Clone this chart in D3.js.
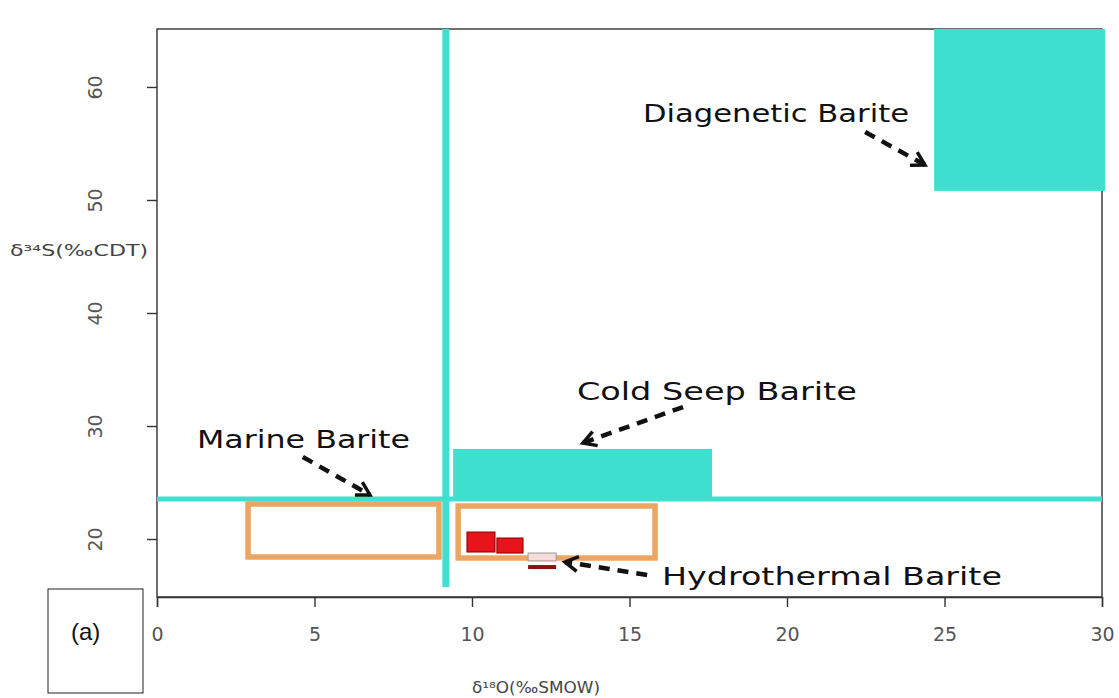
<!DOCTYPE html>
<html>
<head>
<meta charset="utf-8">
<script src="https://cdn.jsdelivr.net/npm/d3@7"></script>
<style>
  body { margin: 0; background: #fff; }
  svg { display: block; }
</style>
</head>
<body>
<svg id="chart" width="1119" height="698"></svg>
<script>
// ---- data (δ18O ‰SMOW on x, δ34S ‰CDT on y) ----
const xTicks = [0, 5, 10, 15, 20, 25, 30];
const yTicks = [20, 30, 40, 50, 60];

// filled barite fields
const fieldNames = ["Diagenetic Barite", "Cold Seep Barite"];
const fieldX = [[24.67, 30.1], [9.40, 17.62]];
const fieldY = [[50.8, 65.13], [23.5, 27.97]];

// boundary lines
const vLineX = 9.17;
const vLineY = [15.75, 65.13];
const hLineY = 23.54;
const hLineX = [0, 30];

// outlined fields
const boxNames = ["Marine Barite", "Marine Barite (this study)"];
const boxX = [[2.89, 8.95], [9.56, 15.81]];
const boxY = [[18.41, 23.10], [18.32, 22.92]];

// hydrothermal samples
const sampleX = [[9.84, 10.73], [10.79, 11.62], [11.78, 12.67]];
const sampleY = [[18.85, 20.62], [18.76, 20.09], [18.06, 18.76]];
const sampleLineX = [11.78, 12.67];
const sampleLineY = 17.52;

// annotations
const labelText = ["Diagenetic Barite", "Cold Seep Barite", "Marine Barite", "Hydrothermal Barite"];
const labelX = [15.43, 13.33, 1.27, 16.03];
const labelY = [56.9, 32.3, 28.06, 15.93];
const arrowFrom = [[22.48, 56.02], [16.70, 31.68], [4.63, 27.26], [15.56, 16.82]];
const arrowTo = [[24.38, 53.10], [13.52, 28.50], [6.76, 23.90], [12.95, 17.97]];

// ---- layout ----
const svg = d3.select("#chart");
const plot = { left: 157, right: 1102, top: 29, bottom: 597 };
const x = d3.scaleLinear().domain([0, 30]).range([plot.left, plot.right]);
const y = d3.scaleLinear().domain([14.87, 65.13]).range([plot.bottom, plot.top]);

const teal = "#40E0D0";
const orange = "#EBA663";
const labelWidths = [266, 280, 213, 340];

// frame
svg.append("rect")
  .attr("x", plot.left).attr("y", plot.top)
  .attr("width", plot.right - plot.left).attr("height", plot.bottom - plot.top)
  .attr("fill", "none").attr("stroke", "#333").attr("stroke-width", 1.4);

// filled fields
svg.selectAll("rect.field").data(fieldNames).join("rect")
  .attr("class", "field")
  .attr("x", (d, i) => x(fieldX[i][0]))
  .attr("width", (d, i) => x(fieldX[i][1]) - x(fieldX[i][0]))
  .attr("y", (d, i) => y(fieldY[i][1]))
  .attr("height", (d, i) => y(fieldY[i][0]) - y(fieldY[i][1]))
  .attr("fill", teal);

// boundary lines
svg.append("line")
  .attr("x1", x(hLineX[0])).attr("x2", x(hLineX[1]))
  .attr("y1", y(hLineY)).attr("y2", y(hLineY))
  .attr("stroke", teal).attr("stroke-width", 5);
svg.append("line")
  .attr("x1", x(vLineX)).attr("x2", x(vLineX))
  .attr("y1", y(vLineY[0])).attr("y2", y(vLineY[1]))
  .attr("stroke", teal).attr("stroke-width", 7);

// outlined fields
svg.selectAll("rect.box").data(boxNames).join("rect")
  .attr("class", "box")
  .attr("x", (d, i) => x(boxX[i][0]))
  .attr("width", (d, i) => x(boxX[i][1]) - x(boxX[i][0]))
  .attr("y", (d, i) => y(boxY[i][1]))
  .attr("height", (d, i) => y(boxY[i][0]) - y(boxY[i][1]))
  .attr("fill", "none").attr("stroke", orange).attr("stroke-width", 5.5);

// hydrothermal samples
const sampleFill = ["#E8141C", "#E8141C", "#F9DCDC"];
const sampleStroke = ["#8B0000", "#8B0000", "#999"];
svg.selectAll("rect.sample").data(sampleX).join("rect")
  .attr("class", "sample")
  .attr("x", (d, i) => x(d[0]))
  .attr("width", (d, i) => x(d[1]) - x(d[0]))
  .attr("y", (d, i) => y(sampleY[i][1]))
  .attr("height", (d, i) => y(sampleY[i][0]) - y(sampleY[i][1]))
  .attr("fill", (d, i) => sampleFill[i])
  .attr("stroke", (d, i) => sampleStroke[i]).attr("stroke-width", 1);
svg.append("line")
  .attr("x1", x(sampleLineX[0])).attr("x2", x(sampleLineX[1]))
  .attr("y1", y(sampleLineY)).attr("y2", y(sampleLineY))
  .attr("stroke", "#8B1010").attr("stroke-width", 4);

// axes
const xAxis = svg.append("g")
  .attr("transform", `translate(0,${plot.bottom})`)
  .call(d3.axisBottom(x).tickValues(xTicks).tickSize(10).tickPadding(21).tickFormat(d3.format("d")));
xAxis.select(".domain").attr("stroke", "#333").attr("stroke-width", 1.4);
xAxis.selectAll(".tick line").attr("stroke", "#333").attr("stroke-width", 1.4);
xAxis.selectAll(".tick text")
  .attr("font-family", "DejaVu Sans").attr("font-size", 19).attr("fill", "#555");

const yAxis = svg.append("g")
  .attr("transform", `translate(${plot.left},0)`)
  .call(d3.axisLeft(y).tickValues(yTicks).tickSize(10).tickFormat(""));
yAxis.select(".domain").remove();
yAxis.selectAll(".tick line").attr("stroke", "#333").attr("stroke-width", 1.4);
yAxis.selectAll(".tick").append("text")
  .attr("transform", "translate(-69,0) rotate(-90)")
  .attr("text-anchor", "middle")
  .attr("dy", "0.72em")
  .attr("font-family", "DejaVu Sans").attr("font-size", 19).attr("fill", "#555")
  .text(d => d);

// axis titles
svg.append("text")
  .attr("x", 10).attr("y", 256)
  .attr("font-family", "DejaVu Sans").attr("font-size", 15).attr("fill", "#444")
  .attr("textLength", 138).attr("lengthAdjust", "spacingAndGlyphs")
  .text("δ³⁴S(‰CDT)");
svg.append("text")
  .attr("x", 472).attr("y", 693)
  .attr("font-family", "DejaVu Sans").attr("font-size", 15).attr("fill", "#444")
  .attr("textLength", 128).attr("lengthAdjust", "spacingAndGlyphs")
  .text("δ¹⁸O(‰SMOW)");

// field labels
svg.selectAll("text.label").data(labelText).join("text")
  .attr("class", "label")
  .attr("x", (d, i) => x(labelX[i]))
  .attr("y", (d, i) => y(labelY[i]))
  .attr("font-family", "DejaVu Sans").attr("font-size", 24).attr("fill", "#111")
  .attr("textLength", (d, i) => labelWidths[i]).attr("lengthAdjust", "spacingAndGlyphs")
  .text(d => d);

// dashed arrows
arrowFrom.forEach((p, i) => {
  const x0 = x(p[0]), y0 = y(p[1]);
  const x1 = x(arrowTo[i][0]), y1 = y(arrowTo[i][1]);
  svg.append("line")
    .attr("x1", x0).attr("y1", y0).attr("x2", x1).attr("y2", y1)
    .attr("stroke", "#111").attr("stroke-width", 4.5)
    .attr("stroke-dasharray", "11,8");
  const ang = Math.atan2(y1 - y0, x1 - x0);
  const len = 15, spread = Math.PI / 6;
  const a1 = ang + Math.PI - spread, a2 = ang + Math.PI + spread;
  svg.append("path")
    .attr("d", `M${x1 + len * Math.cos(a1)},${y1 + len * Math.sin(a1)}L${x1},${y1}L${x1 + len * Math.cos(a2)},${y1 + len * Math.sin(a2)}`)
    .attr("fill", "none").attr("stroke", "#111").attr("stroke-width", 3.5)
    .attr("stroke-linejoin", "miter");
});

// panel tag
svg.append("rect")
  .attr("x", 48).attr("y", 589).attr("width", 95).attr("height", 104)
  .attr("fill", "#fff").attr("stroke", "#222").attr("stroke-width", 1);
svg.append("text")
  .attr("x", 71).attr("y", 640)
  .attr("font-family", "Liberation Sans").attr("font-size", 24).attr("fill", "#111")
  .text("(a)");
</script>
</body>
</html>
